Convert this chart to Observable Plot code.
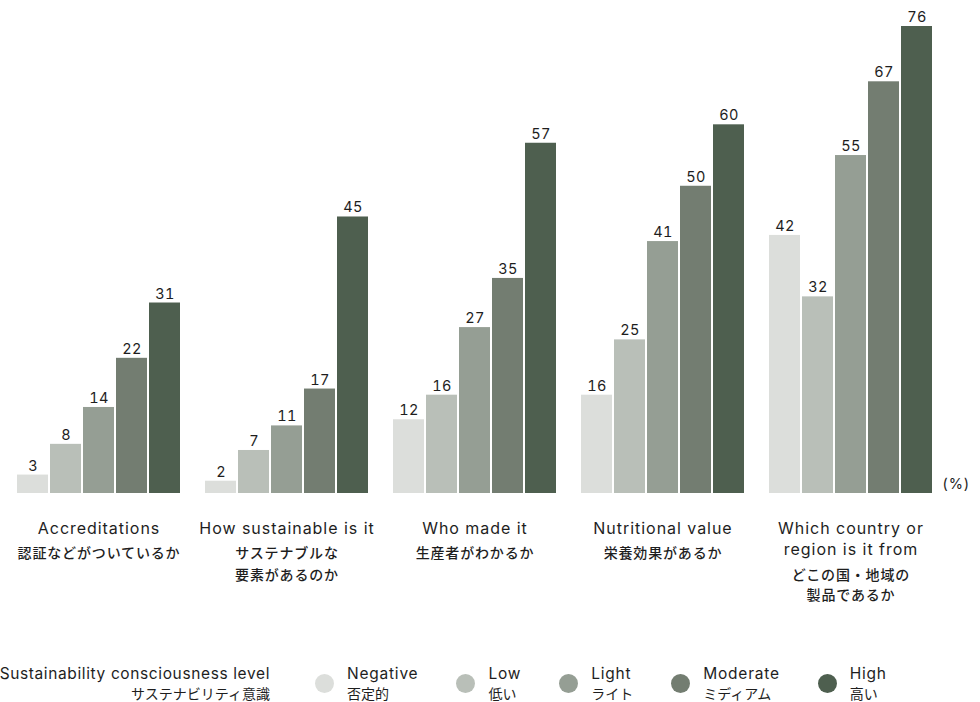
<!DOCTYPE html>
<html lang="ja">
<head>
<meta charset="utf-8">
<script src="https://cdn.jsdelivr.net/npm/d3@7"></script>
<script src="https://cdn.jsdelivr.net/npm/@observablehq/plot@0.6"></script>
<style>
  html, body { margin: 0; padding: 0; background: #fff; }
  #page { position: relative; width: 980px; height: 702px; overflow: hidden;
          font-family: Inter, "Noto Sans CJK JP", sans-serif; color: #1e1e1e; }
  #page svg text { letter-spacing: 0.06em; }
  #page svg g.value-label text { letter-spacing: 0.02em; }
  .legend { position: absolute; top: 664px; left: 0; width: 980px; height: 38px; }
  .legend-title { position: absolute; right: 710px; top: 0; text-align: right; white-space: nowrap; }
  .legend-title .en { letter-spacing: 0.04em; }
  .legend-items { position: absolute; left: 315px; top: 0; display: flex; gap: 38px; }
  .item { display: flex; align-items: center; gap: 13px; }
  .swatch { width: 19px; height: 19px; border-radius: 50%; flex: none; }
  .en { font-size: 15.5px; line-height: 20px; letter-spacing: 0.05em; }
  .ja { font-family: "Noto Sans CJK JP", sans-serif; font-size: 14px; line-height: 18px; }
</style>
</head>
<body>
<div id="page"></div>
<script>
// Purchase criteria (categories) with English / Japanese labels
const categories = ["Accreditations", "How sustainable is it", "Who made it", "Nutritional value", "Which country or region is it from"];
const labelsEn = ["Accreditations", "How sustainable is it", "Who made it", "Nutritional value", "Which country or\nregion is it from"];
const labelsJa = ["認証などがついているか", "サステナブルな\n要素があるのか", "生産者がわかるか", "栄養効果があるか", "どこの国・地域の\n製品であるか"];

// Sustainability consciousness levels
const levels = ["Negative", "Low", "Light", "Moderate", "High"];
const levelsJa = ["否定的", "低い", "ライト", "ミディアム", "高い"];
const levelColors = ["#dcdedb", "#b9bfb8", "#959e94", "#737d71", "#4e5f4f"];

// Share of respondents (%) per level, in category order
const negative = [3, 2, 12, 16, 42];
const low = [8, 7, 16, 25, 32];
const light = [14, 11, 27, 41, 55];
const moderate = [22, 17, 35, 50, 67];
const high = [31, 45, 57, 60, 76];

const seriesByLevel = [negative, low, light, moderate, high];
const data = levels.flatMap((level, li) =>
  categories.map((category, ci) => ({category, level, value: seriesByLevel[li][ci]}))
);
const catRows = categories.map((category, i) => ({
  category, en: labelsEn[i], ja: labelsJa[i], twoLine: labelsEn[i].includes("\n")
}));

const jaFont = "'Noto Sans CJK JP', sans-serif";

const chart = Plot.plot({
  width: 980,
  height: 620,
  marginTop: 26,
  marginBottom: 127,
  marginLeft: 14,
  marginRight: 44,
  style: {fontFamily: "Inter, 'Noto Sans CJK JP', sans-serif", color: "#1e1e1e", background: "#fff"},
  fx: {domain: categories, paddingInner: 0.12, paddingOuter: 0, axis: null, label: null},
  x: {domain: levels, paddingInner: 0.06, paddingOuter: 0, axis: null},
  y: {domain: [0, 76], axis: null},
  color: {domain: levels, range: levelColors},
  marks: [
    Plot.barY(data, {fx: "category", x: "level", y: "value", fill: "level"}),
    Plot.text(data, {fx: "category", x: "level", y: "value", text: "value",
      lineAnchor: "bottom", dy: -4.5, fontSize: 14.5, className: "value-label"}),
    Plot.text(catRows, {fx: "category", text: "en", frameAnchor: "bottom",
      lineAnchor: "top", dy: 25, fontSize: 16, lineHeight: 1.32}),
    Plot.text(catRows.filter(d => !d.twoLine), {fx: "category", text: "ja", frameAnchor: "bottom",
      lineAnchor: "top", dy: 49.5, fontSize: 14, lineHeight: 1.55, fontFamily: jaFont, fontWeight: 500}),
    Plot.text(catRows.filter(d => d.twoLine), {fx: "category", text: "ja", frameAnchor: "bottom",
      lineAnchor: "top", dy: 72, fontSize: 14, lineHeight: 1.45, fontFamily: jaFont, fontWeight: 500}),
    Plot.text([{category: categories[categories.length - 1], t: "(%)"}], {fx: "category", text: "t",
      frameAnchor: "bottom-right", textAnchor: "start", lineAnchor: "bottom", dx: 9, dy: -5, fontSize: 14.5})
  ]
});

const page = document.getElementById("page");
page.appendChild(chart);

// Legend below the chart
const legend = document.createElement("div");
legend.className = "legend";
legend.innerHTML =
  `<div class="legend-title"><div class="en">Sustainability consciousness level</div><div class="ja">サステナビリティ意識</div></div>` +
  `<div class="legend-items">` +
  levels.map((l, i) =>
    `<div class="item"><span class="swatch" style="background:${levelColors[i]}"></span>` +
    `<div><div class="en">${l}</div><div class="ja">${levelsJa[i]}</div></div></div>`
  ).join("") +
  `</div>`;
page.appendChild(legend);
</script>
</body>
</html>
